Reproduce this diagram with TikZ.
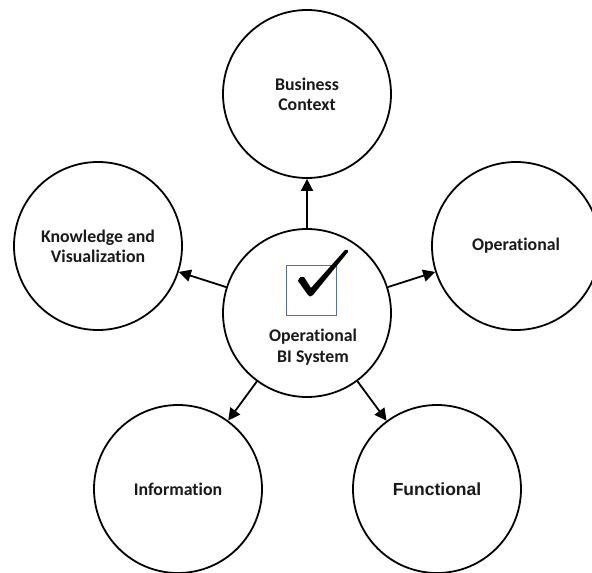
\documentclass[tikz,border=0pt]{standalone}
\usepackage{fontspec}
\setmainfont[Ligatures=NoCommon]{Carlito}
\newfontfamily\arialfont{Liberation Sans}
\usetikzlibrary{arrows.meta}
\definecolor{boxblue}{RGB}{84,112,158}
\definecolor{txt}{RGB}{25,25,25}
\begin{document}
\begin{tikzpicture}[x=1pt,y=-1pt,
  bubble/.style={circle,draw=black,line width=1.8pt,minimum size=168pt,inner sep=0pt,
    font=\fontsize{17.8}{20}\selectfont\bfseries,align=center,text=txt},
  arr/.style={line width=1.8pt,-{Triangle[length=12pt,width=12pt]}}]
\useasboundingbox (0,0) rectangle (592,573);
\fill[white] (0,0) rectangle (592,573);
\node[bubble] (c) at (307,313) {};
\node[bubble] (top) at (307,94) {Business\\Context};
\node[bubble] (left) at (98,246) {Knowledge and\\Visualization};
\node[bubble] (right) at (516,246) {Operational};
\node[bubble] (bl) at (178,489) {Information};
\node[bubble,font=\fontsize{17.5}{20}\selectfont\arialfont\bfseries] (br) at (437,489) {Functional};
\node[draw=boxblue,line width=0.8pt,minimum size=50pt,inner sep=0pt] (box) at (311,290) {};
\node[font=\fontsize{17.8}{21}\selectfont\bfseries,align=center,text=txt] (ctext) at (313,347) {Operational\\BI System};
\fill[black] (298,281) .. controls (299,277) and (302,276) .. (304,277)
  -- (311,288) -- (345,250) .. controls (347,249) and (349,250) .. (348,252)
  -- (313,295) .. controls (311,297) and (309,297) .. (308,295) -- cycle;
\draw[arr] (c) -- (top);
\draw[arr] (c) -- (left);
\draw[arr] (c) -- (right);
\draw[arr] (c) -- (bl);
\draw[arr] (c) -- (br);
\end{tikzpicture}
\end{document}
